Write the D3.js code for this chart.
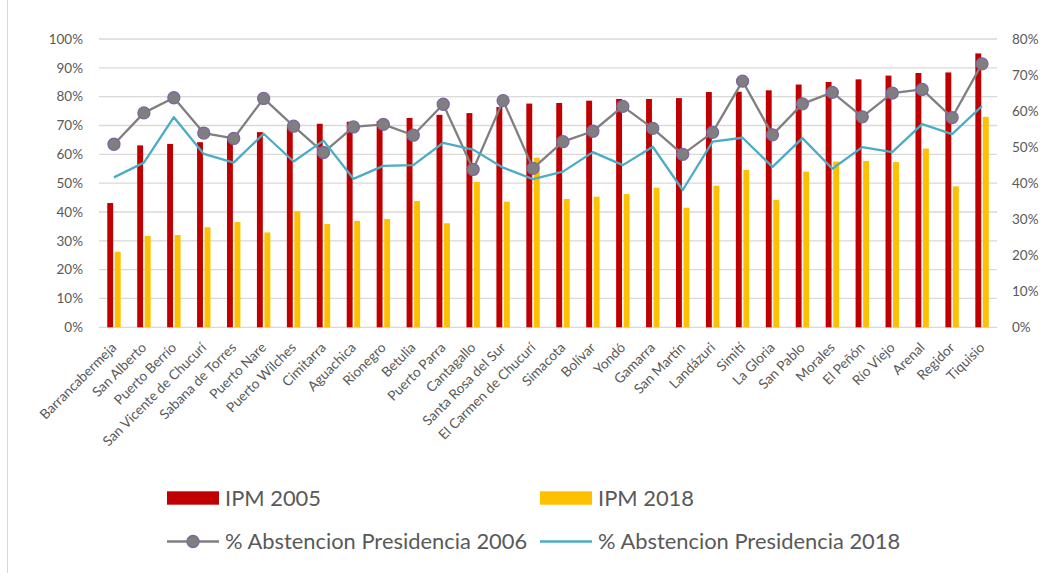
<!DOCTYPE html>
<html>
<head>
<meta charset="utf-8">
<script src="https://cdn.jsdelivr.net/npm/d3@7"></script>
<style>
  html, body { margin: 0; padding: 0; background: #ffffff; }
  svg { display: block; }
  text { font-family: Lato, "Open Sans", sans-serif; fill: #595959; }
</style>
</head>
<body>
<svg id="chart" width="1042" height="573"></svg>
<script>
// Municipios (eje de categorías)
const municipios = [
  "Barrancabermeja", "San Alberto", "Puerto Berrío", "San Vicente de Chucurí",
  "Sabana de Torres", "Puerto Nare", "Puerto Wilches", "Cimitarra", "Aguachica",
  "Rionegro", "Betulia", "Puerto Parra", "Cantagallo", "Santa Rosa del Sur",
  "El Carmen de Chucurí", "Simacota", "Bolívar", "Yondó", "Gamarra", "San Martín",
  "Landázuri", "Simití", "La Gloria", "San Pablo", "Morales", "El Peñón",
  "Río Viejo", "Arenal", "Regidor", "Tiquisio"
];

// Índice de Pobreza Multidimensional (eje izquierdo)
const ipm2005 = [
  0.431, 0.631, 0.636, 0.642, 0.655, 0.677, 0.695, 0.706, 0.713, 0.715,
  0.726, 0.737, 0.743, 0.764, 0.776, 0.778, 0.786, 0.792, 0.792, 0.795,
  0.816, 0.817, 0.822, 0.842, 0.851, 0.860, 0.873, 0.882, 0.884, 0.950
];
const ipm2018 = [
  0.262, 0.317, 0.320, 0.347, 0.365, 0.329, 0.403, 0.358, 0.369, 0.376,
  0.438, 0.361, 0.504, 0.436, 0.588, 0.445, 0.453, 0.462, 0.484, 0.415,
  0.491, 0.546, 0.442, 0.540, 0.575, 0.577, 0.573, 0.620, 0.489, 0.730
];

// Abstención en elecciones presidenciales (eje derecho)
const abst2006 = [
  0.508, 0.595, 0.637, 0.539, 0.524, 0.635, 0.558, 0.485, 0.556, 0.563,
  0.533, 0.619, 0.438, 0.629, 0.441, 0.515, 0.544, 0.613, 0.552, 0.480,
  0.541, 0.683, 0.534, 0.620, 0.652, 0.584, 0.650, 0.660, 0.582, 0.731
];
const abst2018 = [
  0.416, 0.457, 0.583, 0.481, 0.457, 0.537, 0.460, 0.518, 0.412, 0.448,
  0.450, 0.512, 0.493, 0.443, 0.411, 0.432, 0.486, 0.450, 0.501, 0.381,
  0.515, 0.526, 0.445, 0.525, 0.440, 0.500, 0.486, 0.564, 0.536, 0.614
];

// Marcas de los ejes
const ticksIzq = [0, 0.1, 0.2, 0.3, 0.4, 0.5, 0.6, 0.7, 0.8, 0.9, 1.0];
const ticksDer = [0, 0.1, 0.2, 0.3, 0.4, 0.5, 0.6, 0.7, 0.8];

// Series de la leyenda
const leyenda = [
  { nombre: "IPM 2005", tipo: "barra", color: "#c00000" },
  { nombre: "IPM 2018", tipo: "barra", color: "#ffc000" },
  { nombre: "% Abstencion Presidencia 2006", tipo: "marcador", color: "#7f7f7f" },
  { nombre: "% Abstencion Presidencia 2018", tipo: "linea", color: "#4bacc6" }
];

const svg = d3.select("#chart");
const plot = { left: 99, right: 997, top: 39, bottom: 327.3 };

// Borde del área del gráfico
svg.append("line")
  .attr("x1", 7.5).attr("x2", 7.5).attr("y1", 0).attr("y2", 573)
  .attr("stroke", "#d9d9d9").attr("stroke-width", 1);

const x0 = d3.scaleBand().domain(municipios)
  .range([plot.left, plot.right]).paddingInner(0.552).paddingOuter(0.276);
const x1 = d3.scaleBand().domain(["2005", "2018"])
  .range([0, x0.bandwidth()]).paddingInner(0.216);
const xc = d => x0(d) + x0.bandwidth() / 2;

const yL = d3.scaleLinear().domain([0, 1]).range([plot.bottom, plot.top]);
const yR = d3.scaleLinear().domain([0, 0.8]).range([plot.bottom, plot.top]);
const pct = d3.format(".0%");

// Líneas de cuadrícula
svg.append("g")
  .selectAll("line").data(ticksIzq).join("line")
  .attr("x1", plot.left).attr("x2", plot.right)
  .attr("y1", d => yL(d)).attr("y2", d => yL(d))
  .attr("stroke", "#d9d9d9").attr("stroke-width", 1.3);

// Eje izquierdo
const axisL = svg.append("g").attr("transform", `translate(${plot.left - 16},0)`)
  .call(d3.axisLeft(yL).tickValues(ticksIzq).tickFormat(pct).tickSize(0).tickPadding(0));
axisL.select(".domain").remove();
axisL.selectAll("text").attr("font-size", "13.5px").style("font-family", "Lato, sans-serif").attr("fill", "#595959");

// Eje derecho
const axisR = svg.append("g").attr("transform", `translate(${plot.right + 15},0)`)
  .call(d3.axisRight(yR).tickValues(ticksDer).tickFormat(pct).tickSize(0).tickPadding(0));
axisR.select(".domain").remove();
axisR.selectAll("text").attr("font-size", "13.5px").style("font-family", "Lato, sans-serif").attr("fill", "#595959");

// Barras IPM
const barras = [
  { clave: "2005", valores: ipm2005, color: "#c00000" },
  { clave: "2018", valores: ipm2018, color: "#ffc000" }
];
barras.forEach(s => {
  svg.append("g").selectAll("rect").data(municipios).join("rect")
    .attr("x", (d) => x0(d) + x1(s.clave))
    .attr("width", x1.bandwidth())
    .attr("y", (d, i) => yL(s.valores[i]))
    .attr("height", (d, i) => plot.bottom - yL(s.valores[i]))
    .attr("fill", s.color);
});

// Etiquetas del eje de categorías
svg.append("g").selectAll("text").data(municipios).join("text")
  .attr("transform", d => `translate(${xc(d)},345) rotate(-45)`)
  .attr("text-anchor", "end").attr("dy", "0.35em")
  .attr("font-size", "13.7px")
  .text(d => d);

// Línea de abstención 2006 con marcadores
const linea = vals => d3.line().x((d, i) => xc(municipios[i])).y(d => yR(d))(vals);
svg.append("path").attr("d", linea(abst2006))
  .attr("fill", "none").attr("stroke", "#7f7f7f").attr("stroke-width", 2.3)
  .attr("stroke-linejoin", "round");
svg.append("g").selectAll("circle").data(abst2006).join("circle")
  .attr("cx", (d, i) => xc(municipios[i])).attr("cy", d => yR(d))
  .attr("r", 6).attr("fill", "#7f7f7f")
  .attr("stroke", "#8064a2").attr("stroke-width", 1.3);

// Línea de abstención 2018
svg.append("path").attr("d", linea(abst2018))
  .attr("fill", "none").attr("stroke", "#4bacc6").attr("stroke-width", 2.3)
  .attr("stroke-linejoin", "round");

// Leyenda
const colX = [167, 540];
const rowY = [498, 541.5];
leyenda.forEach((s, i) => {
  const gx = colX[i % 2], gy = rowY[Math.floor(i / 2)];
  const g = svg.append("g").attr("transform", `translate(${gx},${gy})`);
  if (s.tipo === "barra") {
    g.append("rect").attr("x", 0).attr("y", -6.7).attr("width", 52).attr("height", 13.4).attr("fill", s.color);
  } else {
    g.append("line").attr("x1", 0).attr("x2", 52).attr("y1", 0).attr("y2", 0)
      .attr("stroke", s.color).attr("stroke-width", 2.3);
    if (s.tipo === "marcador") {
      g.append("circle").attr("cx", 26).attr("cy", 0).attr("r", 6)
        .attr("fill", "#7f7f7f").attr("stroke", "#8064a2").attr("stroke-width", 1.3);
    }
  }
  g.append("text").attr("x", 58).attr("dy", "0.35em")
    .attr("font-size", "21.9px").text(s.nombre);
});
</script>
</body>
</html>
